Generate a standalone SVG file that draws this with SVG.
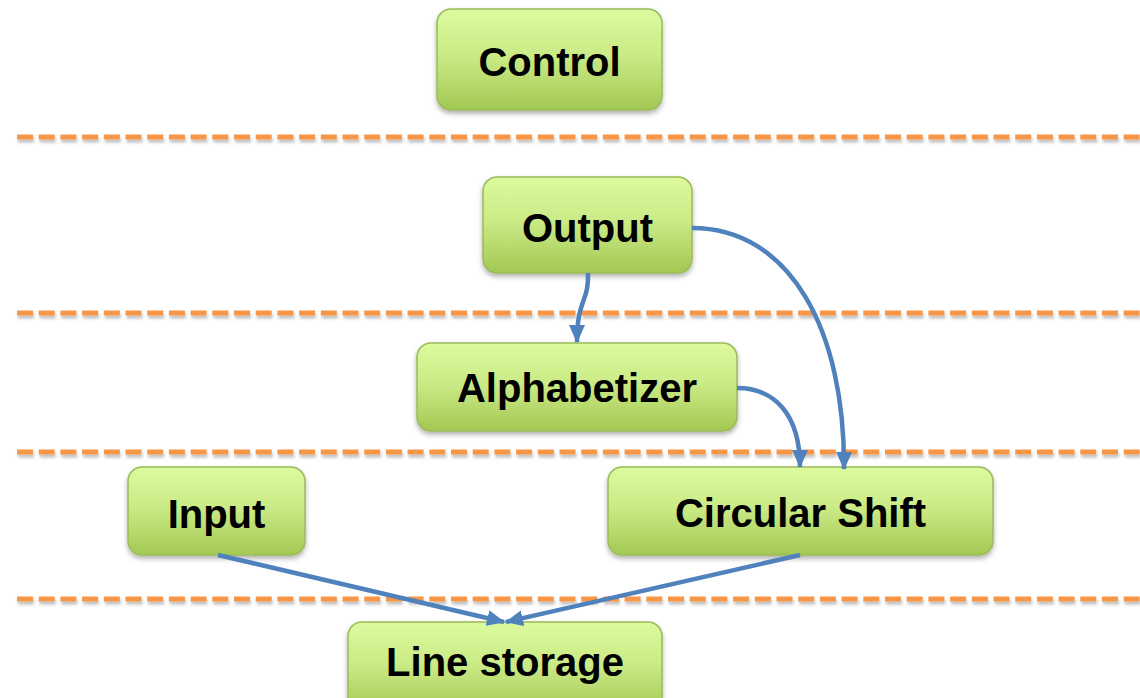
<svg xmlns="http://www.w3.org/2000/svg" width="1140" height="698" viewBox="0 0 1140 698">
  <defs>
    <linearGradient id="boxFill" x1="0" y1="0" x2="0" y2="1">
      <stop offset="0" stop-color="#DBFB9E"/>
      <stop offset="0.45" stop-color="#CBEB87"/>
      <stop offset="1" stop-color="#A3C853"/>
    </linearGradient>
    <filter id="softShadow" x="-10%" y="-10%" width="120%" height="130%">
      <feDropShadow dx="0" dy="3" stdDeviation="2.5" flood-color="#000" flood-opacity="0.3"/>
    </filter>
    <filter id="lineShadow" x="-2%" y="-200%" width="104%" height="500%">
      <feDropShadow dx="1" dy="3" stdDeviation="1.5" flood-color="#000" flood-opacity="0.25"/>
    </filter>
    <marker id="arrow" markerUnits="userSpaceOnUse" markerWidth="18" markerHeight="16" refX="17" refY="8" orient="auto">
      <path d="M0,0 L18,8 L0,16 Z" fill="#4F81BD"/>
    </marker>
    <style>
      .sep { stroke: #F79646; stroke-width: 5; stroke-dasharray: 16 5.7; fill: none; }
      .box { fill: url(#boxFill); stroke: #9BBB59; stroke-width: 1.5; filter: url(#softShadow); }
      .label { font-family: "Liberation Sans", Arial, sans-serif; font-weight: bold; font-size: 40px; fill: #000; text-anchor: middle; }
      .edge { stroke: #4F81BD; stroke-width: 4.5; fill: none; marker-end: url(#arrow); }
    </style>
  </defs>

  <rect width="1140" height="698" fill="#FFFFFF"/>

  <!-- layer separators -->
  <g id="separators" filter="url(#lineShadow)">
    <line class="sep" x1="17" y1="137" x2="1140" y2="137"/>
    <line class="sep" x1="17" y1="313" x2="1140" y2="313"/>
    <line class="sep" x1="17" y1="452" x2="1140" y2="452"/>
    <line class="sep" x1="17" y1="599" x2="1140" y2="599"/>
  </g>

  <!-- modules -->
  <g id="control">
    <rect class="box" x="437" y="9" width="225" height="101" rx="14"/>
    <text class="label" x="549.5" y="76">Control</text>
  </g>
  <g id="output">
    <rect class="box" x="483" y="177" width="209" height="96" rx="14"/>
    <text class="label" x="587.5" y="242">Output</text>
  </g>
  <g id="alphabetizer">
    <rect class="box" x="417" y="343" width="320" height="88" rx="14"/>
    <text class="label" x="577" y="402">Alphabetizer</text>
  </g>
  <g id="input">
    <rect class="box" x="128" y="467" width="177" height="88" rx="14"/>
    <text class="label" x="216.5" y="528">Input</text>
  </g>
  <g id="circular-shift">
    <rect class="box" x="608" y="467" width="385" height="88" rx="14"/>
    <text class="label" x="800.5" y="527">Circular Shift</text>
  </g>
  <g id="line-storage">
    <rect class="box" x="348" y="622" width="314" height="92" rx="14"/>
    <text class="label" x="505" y="676">Line storage</text>
  </g>

  <!-- connectors -->
  <g id="connectors">
    <path class="edge" d="M588,273 C589,303 577,298 577,342"/>
    <path class="edge" d="M692,228 C790,228 845,330 844,469"/>
    <path class="edge" d="M737,388 C775,388 800,415 800,467"/>
    <path class="edge" d="M218,555 L504,622"/>
    <path class="edge" d="M800,555 L506,622"/>
  </g>
</svg>
